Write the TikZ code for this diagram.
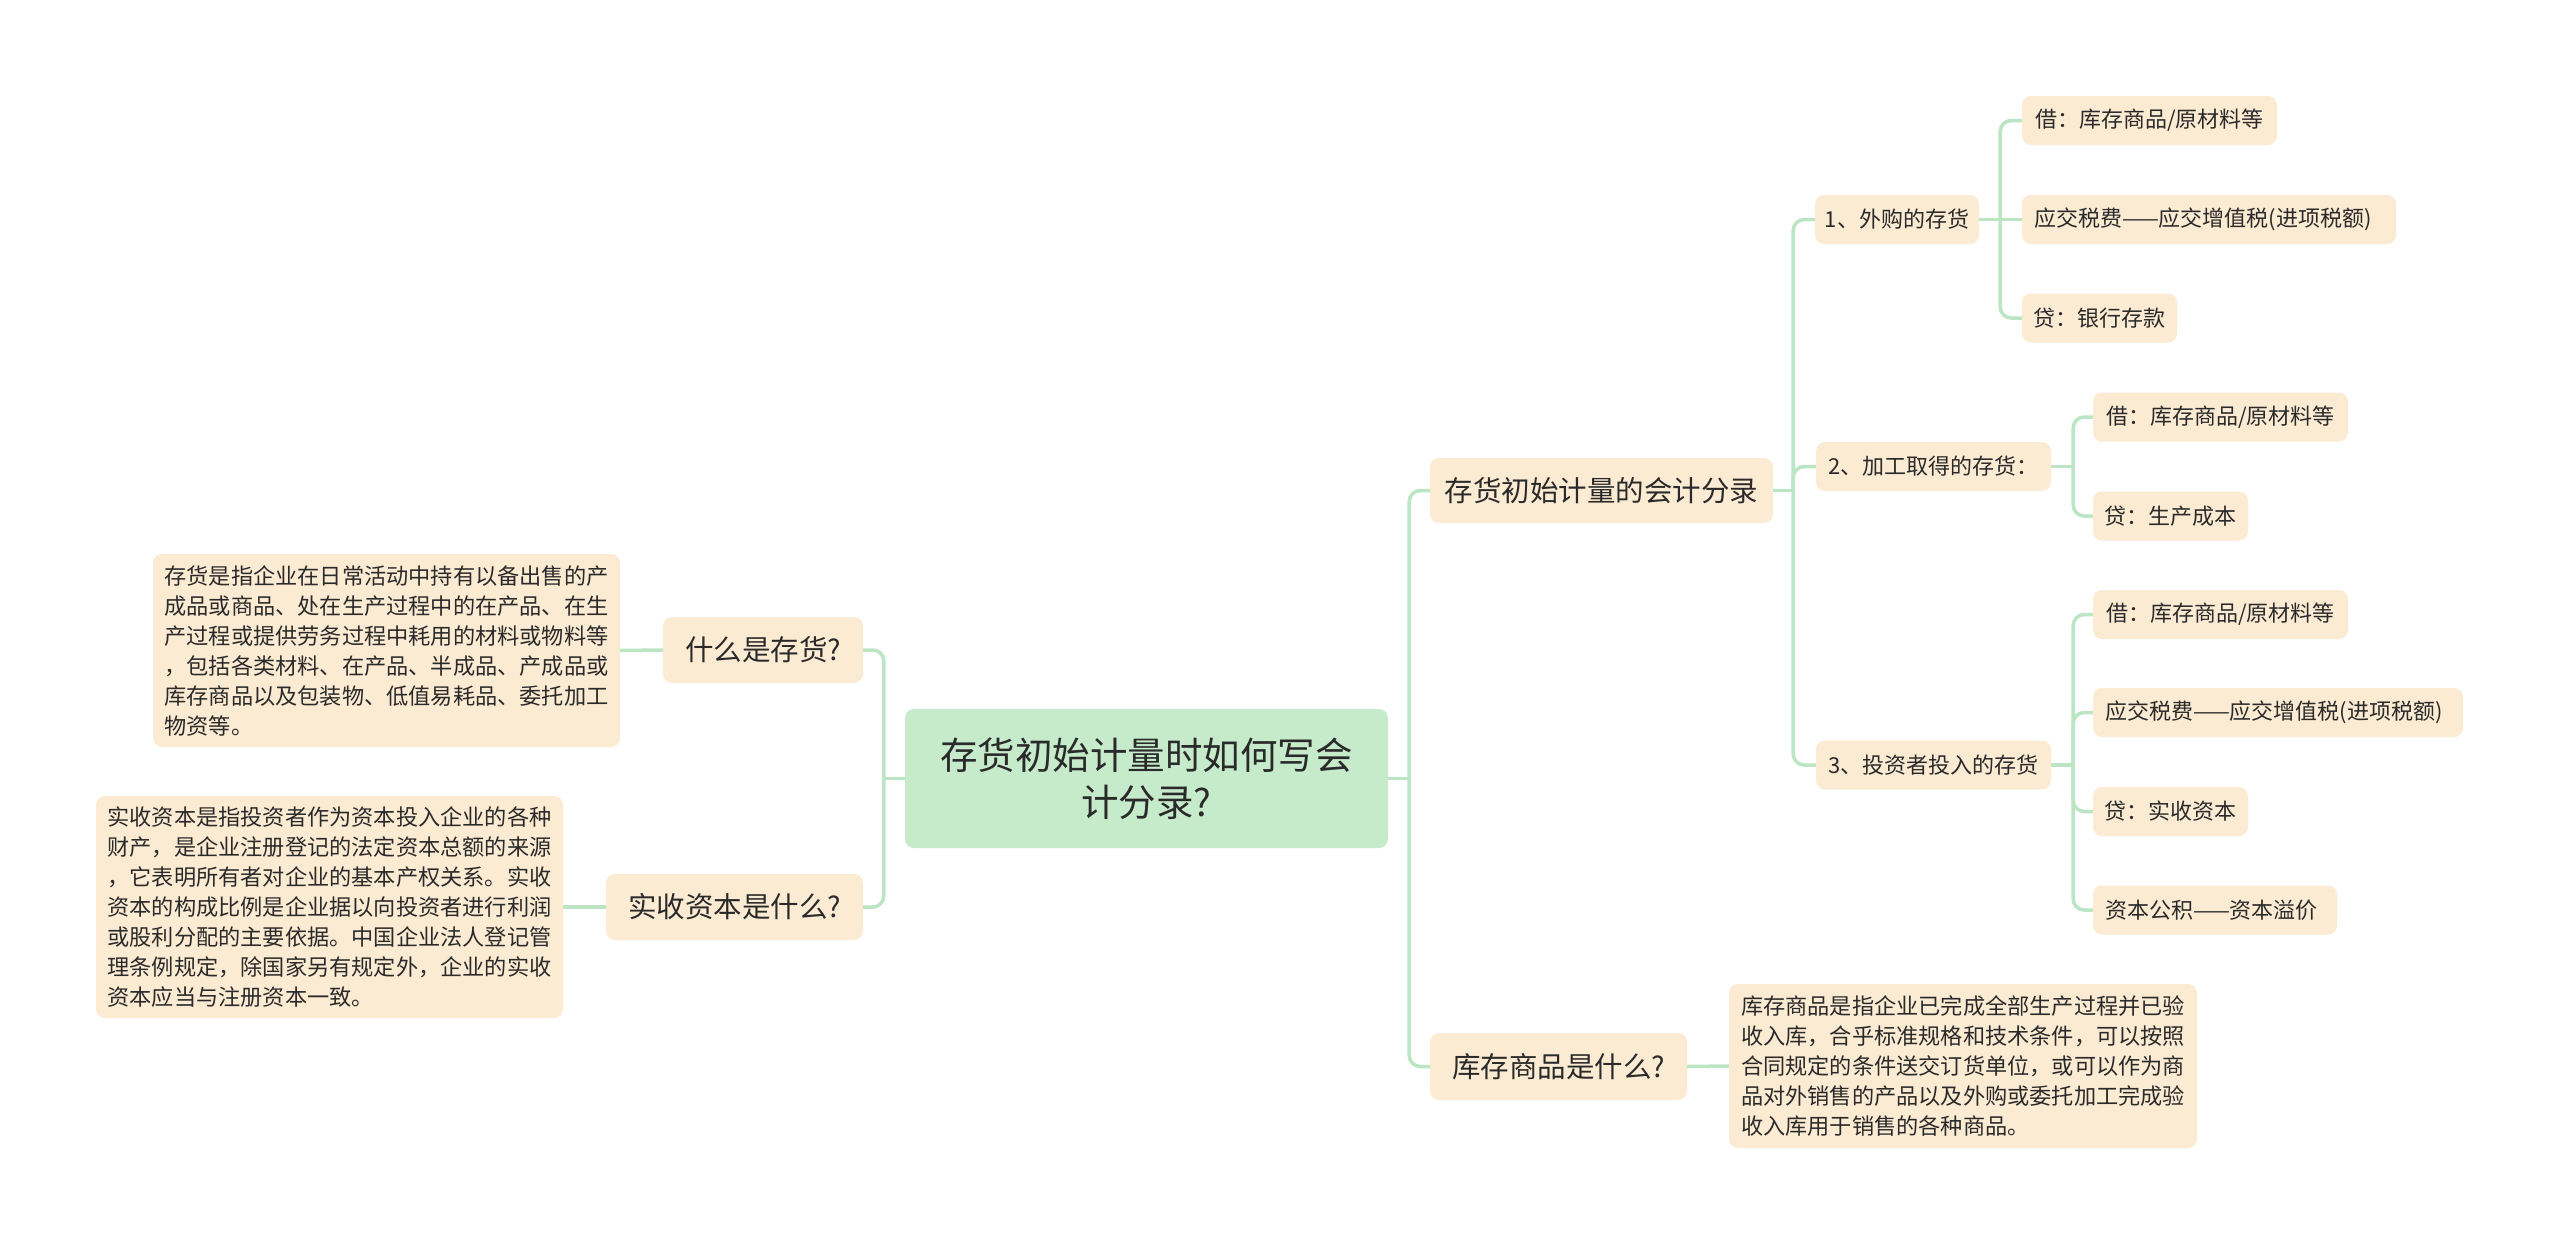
\documentclass[tikz,border=0pt]{standalone}
\usepackage{fontspec}
\setmainfont{Noto Sans CJK SC}
\definecolor{boxfill}{HTML}{FCEBD3}
\definecolor{rootfill}{HTML}{C6EBCB}
\definecolor{linec}{HTML}{BCE5C4}
\definecolor{txt}{HTML}{2A2A2A}
\tikzset{
  box/.style={rectangle, rounded corners=9pt, fill=boxfill, text=txt, inner sep=0pt, align=center},
  rootbox/.style={box, fill=rootfill, font=\fontsize{37.5}{47}\selectfont},
  lone/.style={box, font=\fontsize{28.5}{34}\selectfont, minimum height=66pt},
  ltwo/.style={box, font=\fontsize{22}{26}\selectfont, minimum height=49pt},
  lleft/.style={ltwo, align=left, inner xsep=12pt, text width=#1},
  desc/.style={box, align=left, font=\fontsize{22.2}{30}\selectfont},
  link/.style={draw=linec, line width=3.5pt},
  fork/.style={link, rounded corners=11pt},
}
\begin{document}
\begin{tikzpicture}[x=1pt,y=-1pt]
\useasboundingbox[fill=white] (0,0) rectangle (2560,1245);

% root
\node[rootbox, minimum width=483pt, minimum height=139pt] (root) at (1146.5,778.5) {存货初始计量时如何写会\\计分录?};

% left side
\node[lone, minimum width=200pt] (L1) at (763,650) {什么是存货?};
\node[lone, minimum width=257pt] (L2) at (734.5,907) {实收资本是什么?};
\node[desc, minimum width=467pt, minimum height=193pt] (D1) at (386.5,650.5) {存货是指企业在日常活动中持有以备出售的产\\成品或商品、处在生产过程中的在产品、在生\\产过程或提供劳务过程中耗用的材料或物料等\\，包括各类材料、在产品、半成品、产成品或\\库存商品以及包装物、低值易耗品、委托加工\\物资等。};
\node[desc, minimum width=467pt, minimum height=222pt] (D2) at (329.5,907) {实收资本是指投资者作为资本投入企业的各种\\财产，是企业注册登记的法定资本总额的来源\\，它表明所有者对企业的基本产权关系。实收\\资本的构成比例是企业据以向投资者进行利润\\或股利分配的主要依据。中国企业法人登记管\\理条例规定，除国家另有规定外，企业的实收\\资本应当与注册资本一致。};

% right side level 1
\node[lone, minimum width=343pt, minimum height=65pt] (R1) at (1601.5,490.5) {存货初始计量的会计分录};
\node[lone, minimum width=257pt, minimum height=67pt] (R2) at (1558.5,1066.5) {库存商品是什么?};
\node[desc, minimum width=468pt, minimum height=164pt] (D3) at (1963,1066) {库存商品是指企业已完成全部生产过程并已验\\收入库，合乎标准规格和技术条件，可以按照\\合同规定的条件送交订货单位，或可以作为商\\品对外销售的产品以及外购或委托加工完成验\\收入库用于销售的各种商品。};

% level 2
\node[ltwo, minimum width=164pt] (A) at (1897,219.5) {1、外购的存货};
\node[ltwo, minimum width=235pt] (B) at (1933.5,466.5) {2、加工取得的存货：};
\node[ltwo, minimum width=235pt] (C) at (1933.5,765) {3、投资者投入的存货};

% level 3
\node[ltwo, minimum width=255pt] (A1) at (2149.5,120.5) {借：库存商品/原材料等};
\node[lleft=350pt] (A2) at (2209,219.5) {应交税费——应交增值税(进项税额)};
\node[ltwo, minimum width=155pt] (A3) at (2099.5,318) {贷：银行存款};
\node[ltwo, minimum width=255pt] (B1) at (2220.5,417) {借：库存商品/原材料等};
\node[ltwo, minimum width=155pt] (B2) at (2170.5,516) {贷：生产成本};
\node[ltwo, minimum width=255pt] (C1) at (2220.5,614.5) {借：库存商品/原材料等};
\node[lleft=346pt] (C2) at (2278,712.5) {应交税费——应交增值税(进项税额)};
\node[ltwo, minimum width=155pt] (C3) at (2170.5,811.5) {贷：实收资本};
\node[lleft=220pt] (C4) at (2215,910) {资本公积——资本溢价};

% fork points
\coordinate (rootL) at ([xshift=-21pt]root.west);
\coordinate (rootR) at ([xshift=21pt]root.east);
\coordinate (R1f) at ([xshift=20pt]R1.east);
\coordinate (Af) at ([xshift=21pt]A.east);
\coordinate (Bf) at ([xshift=22pt]B.east);
\coordinate (Cf) at ([xshift=22pt]C.east);

% connectors
\draw[link] (root.west) -- (rootL);
\draw[fork] (rootL) |- (L1.east);
\draw[fork] (rootL) |- (L2.east);
\draw[link] (L1.west) -- (D1.east);
\draw[link] (L2.west) -- (D2.east);

\draw[link] (root.east) -- (rootR);
\draw[fork] (rootR) |- (R1.west);
\draw[fork] (rootR) |- (R2.west);
\draw[link] (R2.east) -- (D3.west);

\draw[link] (R1.east) -- (R1f);
\draw[fork] (R1f) |- (A.west);
\draw[fork] (R1f) |- (B.west);
\draw[fork] (R1f) |- (C.west);

\draw[link] (A.east) -- (Af);
\draw[fork] (Af) |- (A1.west);
\draw[link] (Af) -- (A2.west);
\draw[fork] (Af) |- (A3.west);

\draw[link] (B.east) -- (Bf);
\draw[fork] (Bf) |- (B1.west);
\draw[fork] (Bf) |- (B2.west);

\draw[link] (C.east) -- (Cf);
\draw[fork] (Cf) |- (C1.west);
\draw[fork] (Cf) |- (C2.west);
\draw[fork] (Cf) |- (C3.west);
\draw[fork] (Cf) |- (C4.west);
\end{tikzpicture}
\end{document}
